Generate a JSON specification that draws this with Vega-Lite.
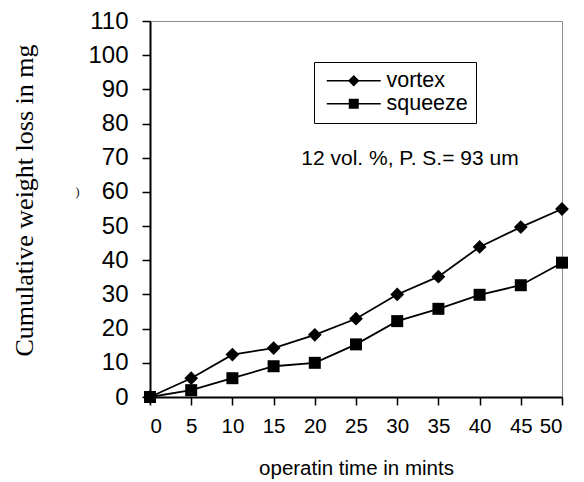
{
  "$schema": "https://vega.github.io/schema/vega-lite/v6.json",
  "width": 412,
  "height": 376,
  "autosize": "none",
  "padding": {"left": 150, "top": 21, "right": 22, "bottom": 85},
  "background": "white",
  "config": {
    "view": {"stroke": "#8c8c8c", "strokeWidth": 1},
    "font": "Liberation Sans",
    "axis": {"grid": false, "domainColor": "black", "tickColor": "black", "labelColor": "black", "titleColor": "black", "domainWidth": 2, "tickWidth": 1.5, "titleFontWeight": "normal"}
  },
  "datasets": {
    "series": [
      {"time": 0, "loss": 0, "series": "vortex"},
      {"time": 5, "loss": 5.5, "series": "vortex"},
      {"time": 10, "loss": 12.4, "series": "vortex"},
      {"time": 15, "loss": 14.3, "series": "vortex"},
      {"time": 20, "loss": 18.2, "series": "vortex"},
      {"time": 25, "loss": 22.9, "series": "vortex"},
      {"time": 30, "loss": 30.0, "series": "vortex"},
      {"time": 35, "loss": 35.2, "series": "vortex"},
      {"time": 40, "loss": 43.9, "series": "vortex"},
      {"time": 45, "loss": 49.7, "series": "vortex"},
      {"time": 50, "loss": 55.0, "series": "vortex"},
      {"time": 0, "loss": 0, "series": "squeeze"},
      {"time": 5, "loss": 2.0, "series": "squeeze"},
      {"time": 10, "loss": 5.5, "series": "squeeze"},
      {"time": 15, "loss": 9.0, "series": "squeeze"},
      {"time": 20, "loss": 10.0, "series": "squeeze"},
      {"time": 25, "loss": 15.4, "series": "squeeze"},
      {"time": 30, "loss": 22.2, "series": "squeeze"},
      {"time": 35, "loss": 25.8, "series": "squeeze"},
      {"time": 40, "loss": 29.9, "series": "squeeze"},
      {"time": 45, "loss": 32.7, "series": "squeeze"},
      {"time": 50, "loss": 39.3, "series": "squeeze"}
    ],
    "note": [
      {"time": 31.55, "loss": 69.7, "label": "12 vol. %, P. S.= 93 um"}
    ],
    "stray": [
      {"time": -8.8, "loss": 60.0, "label": ")"}
    ]
  },
  "encoding": {
    "x": {
      "field": "time", "type": "quantitative",
      "scale": {"domain": [0, 50], "nice": false, "zero": false},
      "axis": {
        "values": [0, 5, 10, 15, 20, 25, 30, 35, 40, 45, 50],
        "title": "operatin time in mints",
        "labelFontSize": 20.5, "tickSize": 8, "labelPadding": 11,
        "titleFontSize": 20.5, "titleFont": "Liberation Sans",
        "titleY": 77, "titleBaseline": "alphabetic"
      }
    },
    "y": {
      "field": "loss", "type": "quantitative",
      "scale": {"domain": [0, 110], "nice": false},
      "axis": {
        "values": [0, 10, 20, 30, 40, 50, 60, 70, 80, 90, 100, 110],
        "title": "Cumulative weight loss in mg",
        "labelFontSize": 24, "tickSize": 8, "labelPadding": 14,
        "titleFont": "Liberation Serif", "titleFontSize": 26,
        "titleX": -118, "titleY": 179, "titleBaseline": "alphabetic", "titleAngle": -90
      }
    }
  },
  "layer": [
    {
      "data": {"name": "series"},
      "mark": {"type": "line", "color": "black", "strokeWidth": 1.8},
      "encoding": {"detail": {"field": "series"}}
    },
    {
      "data": {"name": "series"},
      "mark": {"type": "point", "filled": true, "color": "black", "opacity": 1, "size": 144},
      "encoding": {
        "shape": {
          "field": "series", "type": "nominal",
          "scale": {"domain": ["vortex", "squeeze"], "range": ["M0,-1.15L1.15,0L0,1.15L-1.15,0Z", "M-1,-1H1V1H-1Z"]},
          "legend": null
        }
      }
    },
    {
      "data": {"name": "series"},
      "mark": {"type": "point", "filled": true, "color": "black", "fillOpacity": 0, "strokeOpacity": 0, "size": 100},
      "encoding": {
        "shape": {
          "field": "series", "type": "nominal",
          "scale": {"domain": ["vortex", "squeeze"], "range": ["M-5.4,-0.17L5.4,-0.17L5.4,0.17L-5.4,0.17ZM0,-1.15L1.15,0L0,1.15L-1.15,0Z", "M-5.4,-0.17L5.4,-0.17L5.4,0.17L-5.4,0.17ZM-1,-1L1,-1L1,1L-1,1Z"]},
          "legend": {
            "title": null,
            "orient": "none",
            "legendX": 164,
            "legendY": 41,
            "strokeColor": "black",
            "padding": 8,
            "symbolSize": 100,
            "symbolFillColor": "black",
            "symbolStrokeColor": "black",
            "symbolStrokeWidth": 0,
            "symbolOpacity": 1,
            "symbolOffset": 21,
            "labelOffset": 22,
            "labelFontSize": 21.5,
            "labelColor": "black",
            "rowPadding": 0,
            "encode": {
              "symbols": {"update": {"fill": {"value": "black"}, "fillOpacity": {"value": 1}, "opacity": {"value": 1}}}
            }
          }
        }
      }
    },
    {
      "data": {"name": "note"},
      "mark": {"type": "text", "fontSize": 21, "color": "black", "align": "center", "baseline": "middle"},
      "encoding": {"text": {"field": "label"}}
    },
    {
      "data": {"name": "stray"},
      "mark": {"type": "text", "fontSize": 12, "font": "Liberation Serif", "color": "black", "align": "center", "baseline": "middle", "clip": false},
      "encoding": {"text": {"field": "label"}}
    }
  ],
  "resolve": {"scale": {"shape": "independent"}}
}
